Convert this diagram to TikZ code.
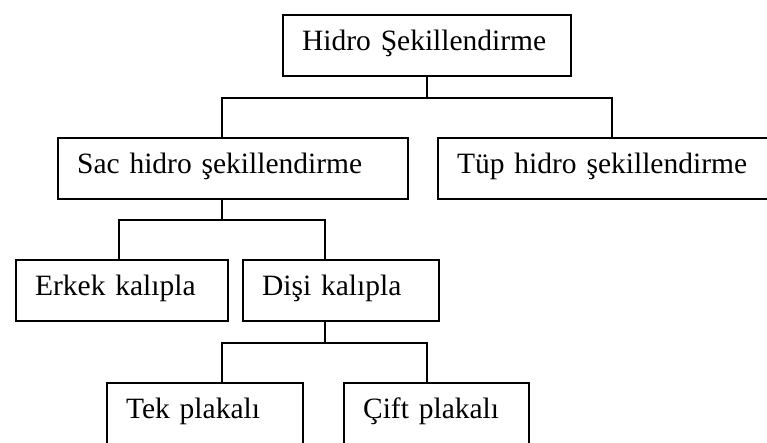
\documentclass[tikz,border=0pt]{standalone}
\usepackage{fontspec}
\setmainfont{Liberation Serif}
\usetikzlibrary{positioning}

\begin{document}
\begin{tikzpicture}[x=1pt, y=-1pt, box/.style={draw=black, line width=2.2pt, rectangle, anchor=north west, inner ysep=0pt, inner xsep=19pt, text height=35pt, text depth=26pt, align=left, font=\fontsize{29.5}{34}\selectfont}, conn/.style={black, line width=2.2pt}]
			\useasboundingbox (0, 0) rectangle (767, 442);
			\node[box, text width=250pt] (hidro) at (282, 14) {Hidro Şekillendirme};
			\node[box, text width=312pt] (sac) at (57, 137) {Sac hidro şekillendirme};
			\node[box, text width=310pt] (tup) at (437, 137) {Tüp hidro şekillendirme};
			\node[box, text width=174pt] (erkek) at (15, 259) {Erkek kalıpla};
			\node[box, text width=158pt] (disi) at (242, 259) {Dişi kalıpla};
			\node[box, text width=158pt] (tek) at (106, 382) {Tek plakalı};
			\node[box, text width=147pt] (cift) at (343, 382) {Çift plakalı};
			\draw[conn] (hidro.south) -- ++(0, 21) coordinate (hidroj);
			\draw[conn] (hidroj) -| ([xshift=-11pt]sac.north);
			\draw[conn] (hidroj) -| (tup.north);
			\draw[conn] ([xshift=-11pt]sac.south) -- ++(0, 20) coordinate (sacj);
			\draw[conn] (sacj) -| ([xshift=-3pt]erkek.north);
			\draw[conn] (sacj) -| ([xshift=-16pt]disi.north);
			\draw[conn] ([xshift=-16pt]disi.south) -- ++(0, 21) coordinate (disij);
			\draw[conn] (disij) -| ([xshift=17pt]tek.north);
			\draw[conn] (disij) -| ([xshift=-9.5pt]cift.north);
		\end{tikzpicture}
\end{document}
